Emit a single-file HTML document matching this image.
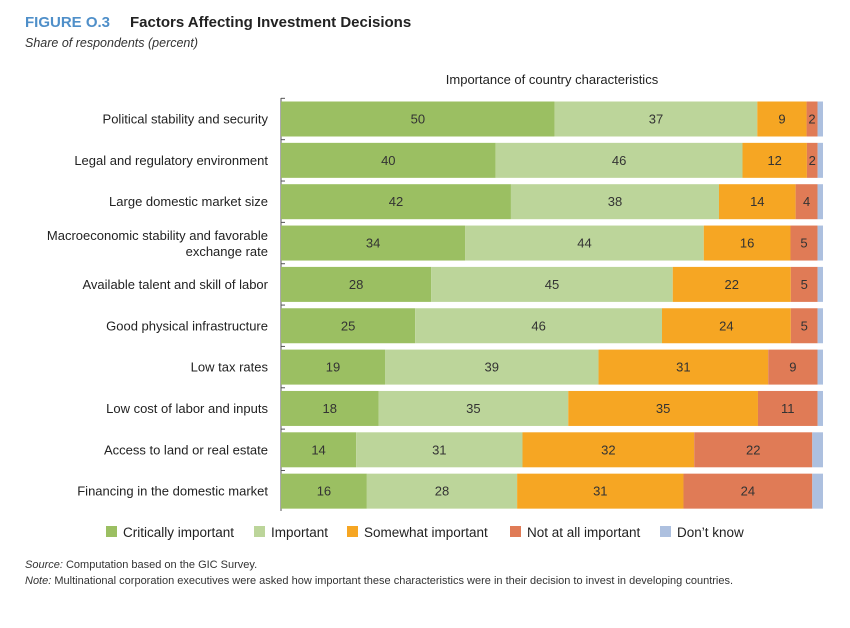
<!DOCTYPE html>
<html><head><meta charset="utf-8"><style>
body{margin:0;background:#fff;width:850px;height:623px;overflow:hidden;font-family:"Liberation Sans",sans-serif}
</style></head><body>
<svg id="c" width="850" height="623" xmlns="http://www.w3.org/2000/svg" font-family="Liberation Sans, sans-serif">
<text x="25" y="27" font-size="15" font-weight="bold" fill="#4f8fc9">FIGURE O.3</text>
<text x="130" y="27" font-size="15" font-weight="bold" fill="#222">Factors Affecting Investment Decisions</text>
<text x="25" y="47" font-size="12.5" font-style="italic" fill="#333">Share of respondents (percent)</text>
<text x="552" y="84" font-size="13" fill="#222" text-anchor="middle">Importance of country characteristics</text>
<g id="plot"></g>
<g id="legend"></g>
<text x="25" y="568" font-size="11" fill="#333"><tspan font-style="italic">Source:</tspan> Computation based on the GIC Survey.</text>
<text x="25" y="584" font-size="11" fill="#333"><tspan font-style="italic">Note:</tspan> Multinational corporation executives were asked how important these characteristics were in their decision to invest in developing countries.</text>
</svg>
<script>
const categories=["Political stability and security","Legal and regulatory environment","Large domestic market size","Macroeconomic stability and favorable|exchange rate","Available talent and skill of labor","Good physical infrastructure","Low tax rates","Low cost of labor and inputs","Access to land or real estate","Financing in the domestic market"];
const critical=[50,40,42,34,28,25,19,18,14,16];
const important=[37,46,38,44,45,46,39,35,31,28];
const somewhat=[9,12,14,16,22,24,31,35,32,31];
const notAtAll=[2,2,4,5,5,5,9,11,22,24];
const dontKnow=[1,1,1,1,1,1,1,1,2,2];
const seriesNames=["Critically important","Important","Somewhat important","Not at all important","Don't know"];
const colors=["#9bbf62","#bcd59a","#f6a623","#e07b56","#adc0df"];
const ns="http://www.w3.org/2000/svg";
const plot=document.getElementById('plot');
const X0=281,W=542,Y0=119,STEP=41.35,BH=35;
const xs=(v,t)=>X0+v/t*W;
const ys=i=>Y0+i*STEP;
function mk(tag,attrs,parent){const e=document.createElementNS(ns,tag);for(const k in attrs)e.setAttribute(k,attrs[k]);parent.appendChild(e);return e;}
const series=[critical,important,somewhat,notAtAll,dontKnow];
const ax=mk('line',{x1:X0,x2:X0,y1:98,y2:511,stroke:"#555","stroke-width":1},plot);


categories.forEach((c,i)=>{
  const cy=ys(i);
  const tot=series.reduce((s,a)=>s+a[i],0);
  let cum=0;
  series.forEach((a,j)=>{
    const x1=xs(cum,tot),x2=xs(cum+a[i],tot);
    const r=mk('rect',{x:x1,y:cy-BH/2,width:x2-x1,height:BH,fill:colors[j]},plot);
    
    
    if(j<4){
      const t=mk('text',{x:(x1+x2)/2,y:cy+4.5,"font-size":13,fill:"#333","text-anchor":"middle"},plot);
      t.textContent=a[i];
      
      
    }
    cum+=a[i];
  });
  const parts=c.split('|');
  const lab=mk('text',{x:268,"font-size":13,fill:"#222","text-anchor":"end"},plot);
  
  
  parts.forEach((p,k)=>{const ts=mk('tspan',{x:268,y:parts.length>1?cy-3+k*16:cy+4.5},lab);ts.textContent=p;});
  const tk=mk('line',{x1:X0,x2:X0+4,y1:cy-STEP/2,y2:cy-STEP/2,stroke:"#555"},plot);
  
  
});
const lg=document.getElementById('legend');
const lx=[106,254,347,510,660];
seriesNames.forEach((n,j)=>{
  const r=mk('rect',{x:lx[j],y:526,width:11,height:11,fill:colors[j]},lg);
  
  
  const t=mk('text',{x:lx[j]+17,y:537,"font-size":13.5,fill:"#222"},lg);
  t.textContent=n.replace("'","’");
  
  
});
</script>
</body></html>
